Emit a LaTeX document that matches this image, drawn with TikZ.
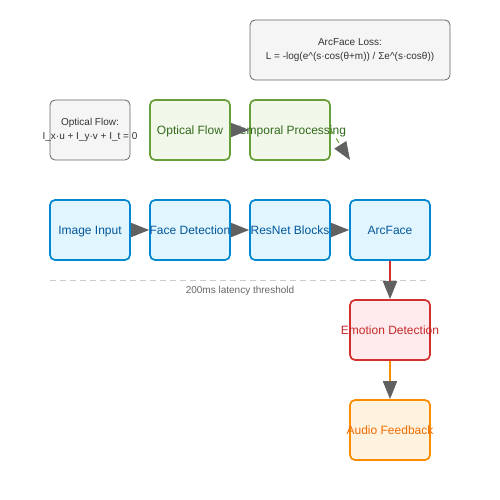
\documentclass[tikz,border=0pt]{standalone}
\usepackage{fontspec}
\setmainfont{Liberation Sans}
\usetikzlibrary{arrows.meta}
\definecolor{bluef}{HTML}{E1F5FE}\definecolor{blued}{HTML}{0288D1}\definecolor{bluet}{HTML}{01579B}
\definecolor{greenf}{HTML}{F1F8E9}\definecolor{greend}{HTML}{689F38}\definecolor{greent}{HTML}{33691E}
\definecolor{grayf}{HTML}{F5F5F5}\definecolor{grayd}{HTML}{666666}\definecolor{grayt}{HTML}{333333}
\definecolor{redf}{HTML}{FFEBEE}\definecolor{redd}{HTML}{D32F2F}\definecolor{redt}{HTML}{C62828}
\definecolor{orangef}{HTML}{FFF3E0}\definecolor{oranged}{HTML}{FB8C00}\definecolor{oranget}{HTML}{EF6C00}
\definecolor{headc}{HTML}{616161}\definecolor{dashc}{HTML}{CCCCCC}
\newcommand{\zw}[1]{\makebox[0pt][c]{#1}}
\begin{document}
\begin{tikzpicture}[x=1pt,y=-1pt,
  box/.style={draw,rounded corners=5pt,minimum width=80pt,minimum height=60pt,inner sep=0pt,text height=8.6pt,text depth=0pt,font=\fontsize{12}{14}\selectfont,line width=1.7pt},
  bluebox/.style={box,draw=blued,fill=bluef,text=bluet},
  greenbox/.style={box,draw=greend,fill=greenf,text=greent},
  redbox/.style={box,draw=redd,fill=redf,text=redt},
  orangebox/.style={box,draw=oranged,fill=orangef,text=oranget},
  graybox/.style={draw=grayd,fill=grayf,text=grayt,rounded corners=5pt,line width=0.8pt,minimum height=60pt,inner sep=0pt,font=\fontsize{10}{14}\selectfont,align=center},
  conn/.style={line width=1pt,-{Triangle[length=18pt,width=14pt,fill=headc,color=headc]}},
]
\useasboundingbox (0,0) rectangle (500,500);
% top formula box
\node[graybox,minimum width=200pt] (loss) at (350,50) {\zw{ArcFace Loss:}\\\zw{L = -log(e\^{}(s·cos(θ+m)) / Σe\^{}(s·cosθ))}};
% row 1
\node[graybox,minimum width=80pt] (ofeq) at (90,130) {\zw{Optical Flow:}\\\zw{I\_x·u + I\_y·v + I\_t = 0}};
\node[greenbox] (of) at (190,130) {\zw{Optical Flow}};
\node[greenbox] (tp) at (290,130) {\zw{Temporal Processing}};
% row 2
\node[bluebox] (img) at (90,230) {\zw{Image Input}};
\node[bluebox] (fd) at (190,230) {\zw{Face Detection}};
\node[bluebox] (res) at (290,230) {\zw{ResNet Blocks}};
\node[bluebox] (arc) at (390,230) {\zw{ArcFace}};
% lower
\node[redbox] (emo) at (390,330) {\zw{Emotion Detection}};
\node[orangebox] (aud) at (390,430) {\zw{Audio Feedback}};
% threshold
\coordinate (thl) at (50,280);
\coordinate (thr) at (428,280);
\draw[dashc,line width=1pt,dash pattern=on 6pt off 4pt] (thl) -- (thr);
\node[text=grayd,font=\fontsize{10}{12}\selectfont] (thlabel) at (240,291) {200ms latency threshold};
% connectors
\draw[conn,draw=grayd] (img.east) -- (fd.west);
\draw[conn,draw=grayd] (fd.east) -- (res.west);
\draw[conn,draw=grayd] (res.east) -- (arc.west);
\draw[conn,draw=grayd] (of.east) -- (tp.west);
\coordinate (tpend) at (350,160);
\draw[conn,draw=greend,dash pattern=on 5pt off 5pt] (tp.east) -- (tpend);
\draw[conn,draw=redd,line width=1.6pt] (arc.south) -- (emo.north);
\draw[conn,draw=oranged,line width=1.6pt] (emo.south) -- (aud.north);
\end{tikzpicture}
\end{document}
